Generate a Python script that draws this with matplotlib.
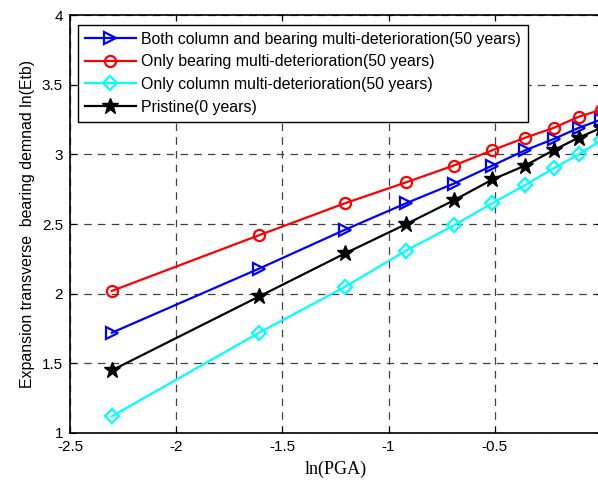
import matplotlib
matplotlib.use("Agg")
import matplotlib.pyplot as plt
import numpy as np

# PGA levels 0.1 ... 1.0 g, plotted as ln(PGA)
pga = [0.1, 0.2, 0.3, 0.4, 0.5, 0.6, 0.7, 0.8, 0.9, 1.0]

both_50 = [1.72, 2.18, 2.46, 2.65, 2.79, 2.92, 3.03, 3.11, 3.19, 3.25]
bearing_50 = [2.02, 2.42, 2.65, 2.80, 2.92, 3.03, 3.12, 3.19, 3.27, 3.32]
column_50 = [1.12, 1.72, 2.05, 2.31, 2.49, 2.65, 2.78, 2.90, 3.00, 3.10]
pristine = [1.45, 1.98, 2.29, 2.50, 2.67, 2.82, 2.92, 3.03, 3.12, 3.19]

labels = ["Both column and bearing multi-deterioration(50 years)",
          "Only bearing multi-deterioration(50 years)",
          "Only column multi-deterioration(50 years)",
          "Pristine(0 years)"]

plt.rcParams.update({
    "font.family": ["Liberation Sans", "DejaVu Sans"],
    "font.size": 10,
    "xtick.direction": "in",
    "ytick.direction": "in",
})

fig = plt.figure(figsize=(5.98, 4.82), dpi=100)
ax = fig.add_axes([0.117, 0.1017, 0.888, 0.867])

x = np.log(pga)
ax.plot(x, both_50, color="blue", lw=1.6, marker=">", ms=9, mfc="none", mec="blue", mew=1.6, label=labels[0])
ax.plot(x, bearing_50, color="red", lw=1.6, marker="o", ms=8, mfc="none", mec="red", mew=1.6, label=labels[1])
ax.plot(x, column_50, color="cyan", lw=1.6, marker="D", ms=7, mfc="none", mec="cyan", mew=1.6, label=labels[2])
ax.plot(x, pristine, color="black", lw=1.6, marker="*", ms=12, mfc="black", mec="black", label=labels[3])

ax.set_xlim(-2.5, 0)
ax.set_ylim(1, 4)
ax.set_xticks([-2.5, -2, -1.5, -1, -0.5, 0])
ax.set_xticklabels(["-2.5", "-2", "-1.5", "-1", "-0.5", ""])
ax.set_yticks([1, 1.5, 2, 2.5, 3, 3.5, 4])
ax.set_yticklabels(["1", "1.5", "2", "2.5", "3", "3.5", "4"])
ax.tick_params(labelsize=11, length=4, pad=5, top=True, right=True)
ax.grid(True, linestyle=(0, (6, 5)), color="#404040", lw=0.9)
for s in ax.spines.values():
    s.set_linewidth(1.2)

ax.set_xlabel("ln(PGA)", family=["Liberation Serif"], fontsize=13, labelpad=5)
ax.set_ylabel("Expansion transverse  bearing demnad ln(Etb)", fontsize=11.4, labelpad=5)

leg = ax.legend(loc="upper left", bbox_to_anchor=(0.015, 0.977), fancybox=False, framealpha=1,
                edgecolor="black", handlelength=3.2, handletextpad=0.35, borderpad=0.45,
                labelspacing=0.48, fontsize=11.4, borderaxespad=0)
leg.get_frame().set_linewidth(1.0)

fig.savefig("out.png", dpi=100)
